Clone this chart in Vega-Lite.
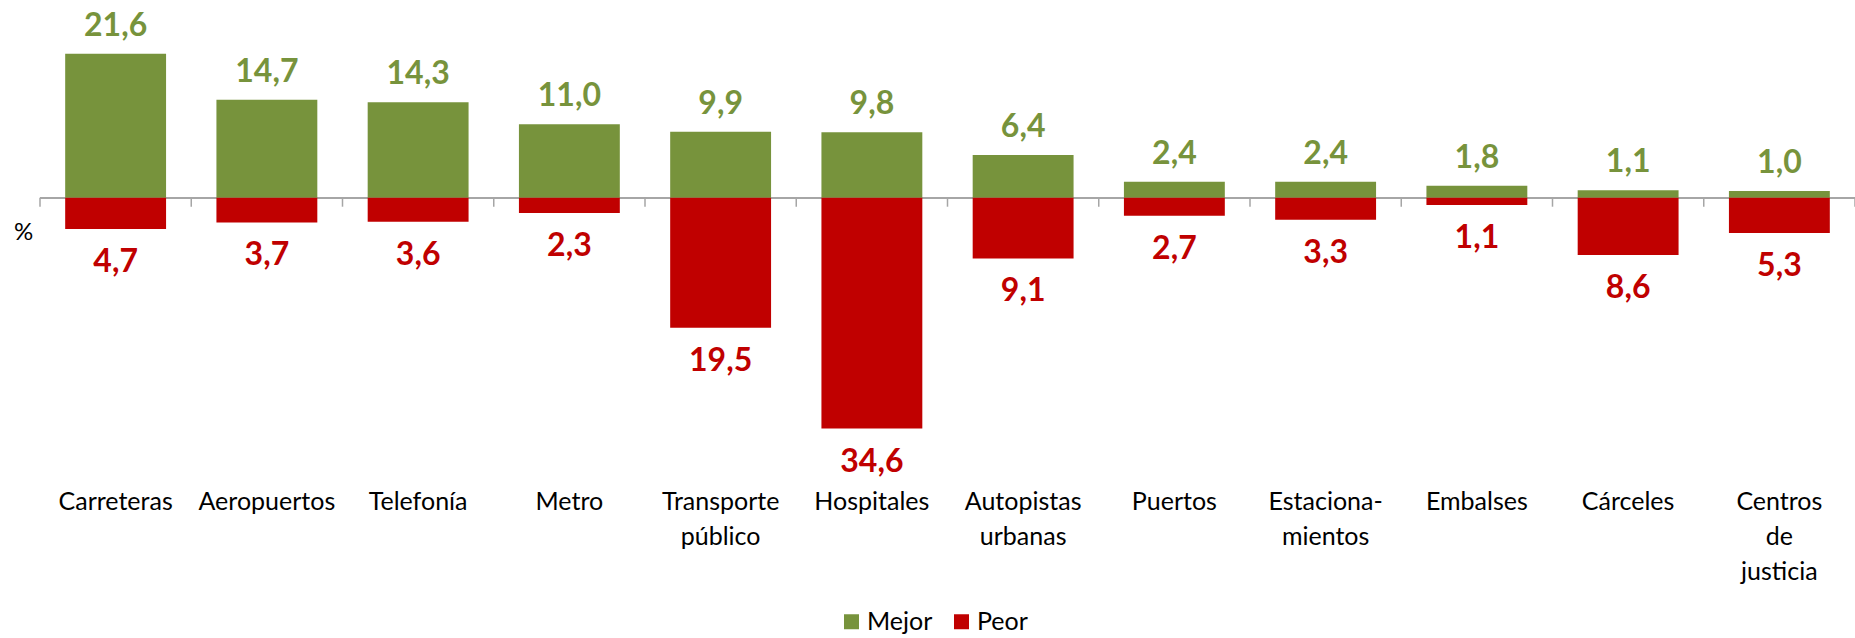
{
  "$schema": "https://vega.github.io/schema/vega-lite/v6.json",
  "autosize": {"type": "none"},
  "padding": {"left": 40, "top": 0, "right": 0, "bottom": 153},
  "width": 1815,
  "height": 485,
  "background": "white",
  "config": {
    "font": "Lato",
    "view": {"stroke": null}
  },
  "data": {
    "values": [
      {"categoria": "Carreteras", "serie": "Mejor", "valor": 21.6},
      {"categoria": "Carreteras", "serie": "Peor", "valor": -4.7},
      {"categoria": "Aeropuertos", "serie": "Mejor", "valor": 14.7},
      {"categoria": "Aeropuertos", "serie": "Peor", "valor": -3.7},
      {"categoria": "Telefonía", "serie": "Mejor", "valor": 14.3},
      {"categoria": "Telefonía", "serie": "Peor", "valor": -3.6},
      {"categoria": "Metro", "serie": "Mejor", "valor": 11.0},
      {"categoria": "Metro", "serie": "Peor", "valor": -2.3},
      {"categoria": "Transporte público", "serie": "Mejor", "valor": 9.9},
      {"categoria": "Transporte público", "serie": "Peor", "valor": -19.5},
      {"categoria": "Hospitales", "serie": "Mejor", "valor": 9.8},
      {"categoria": "Hospitales", "serie": "Peor", "valor": -34.6},
      {"categoria": "Autopistas urbanas", "serie": "Mejor", "valor": 6.4},
      {"categoria": "Autopistas urbanas", "serie": "Peor", "valor": -9.1},
      {"categoria": "Puertos", "serie": "Mejor", "valor": 2.4},
      {"categoria": "Puertos", "serie": "Peor", "valor": -2.7},
      {"categoria": "Estacionamientos", "serie": "Mejor", "valor": 2.4},
      {"categoria": "Estacionamientos", "serie": "Peor", "valor": -3.3},
      {"categoria": "Embalses", "serie": "Mejor", "valor": 1.8},
      {"categoria": "Embalses", "serie": "Peor", "valor": -1.1},
      {"categoria": "Cárceles", "serie": "Mejor", "valor": 1.1},
      {"categoria": "Cárceles", "serie": "Peor", "valor": -8.6},
      {"categoria": "Centros de justicia", "serie": "Mejor", "valor": 1.0},
      {"categoria": "Centros de justicia", "serie": "Peor", "valor": -5.3}
    ]
  },
  "transform": [
    {"calculate": "replace(format(abs(datum.valor), '.1f'), '.', ',')", "as": "etiqueta"}
  ],
  "encoding": {
    "x": {
      "field": "categoria",
      "type": "nominal",
      "sort": null,
      "scale": {"paddingInner": 0, "paddingOuter": 0},
      "axis": {
        "title": null,
        "orient": "bottom",
        "domain": false,
        "ticks": false,
        "labelAngle": 0,
        "labelFontSize": 25,
        "labelColor": "#000000",
        "labelPadding": 24,
        "labelBaseline": "alphabetic",
        "labelLineHeight": 35,
        "labelExpr": "datum.value == 'Estacionamientos' ? ['Estaciona-', 'mientos'] : split(datum.value, ' ')"
      }
    }
  },
  "layer": [
    {
      "mark": {"type": "rule", "color": "#A6A6A6", "strokeWidth": 1.5},
      "encoding": {
        "x": null,
        "y": {"datum": 0, "type": "quantitative"}
      }
    },
    {
      "transform": [{"filter": "datum.serie == 'Mejor'"}],
      "mark": {"type": "rule", "color": "#A6A6A6", "strokeWidth": 1.5},
      "encoding": {
        "x": {"field": "categoria", "type": "nominal", "sort": null, "bandPosition": 0},
        "y": {"datum": 0, "type": "quantitative"},
        "y2": {"datum": -1.35}
      }
    },
    {
      "transform": [{"filter": "datum.serie == 'Mejor' && datum.categoria == 'Centros de justicia'"}],
      "mark": {"type": "rule", "color": "#A6A6A6", "strokeWidth": 1.5},
      "encoding": {
        "x": {"field": "categoria", "type": "nominal", "sort": null, "bandPosition": 1},
        "y": {"datum": 0, "type": "quantitative"},
        "y2": {"datum": -1.35}
      }
    },
    {
      "mark": {"type": "bar", "width": {"band": 0.667}},
      "encoding": {
        "y": {
          "field": "valor",
          "type": "quantitative",
          "scale": {"domain": [-43.07, 29.64], "nice": false, "zero": false},
          "axis": {
            "title": "%",
            "labels": false,
            "ticks": false,
            "domain": false,
            "grid": false,
            "titleAngle": 0,
            "titleFontSize": 24,
            "titleFontWeight": "normal",
            "titleColor": "#000000",
            "titleAlign": "center",
            "titleBaseline": "middle",
            "titleX": -17,
            "titleY": 232
          }
        },
        "color": {
          "field": "serie",
          "type": "nominal",
          "scale": {"domain": ["Mejor", "Peor"], "range": ["#77933C", "#C00000"]},
          "legend": {
            "title": null,
            "orient": "none",
            "direction": "horizontal",
            "legendX": 799,
            "legendY": 609,
            "padding": 0,
            "symbolType": "square",
            "symbolSize": 225,
            "symbolStrokeWidth": 0,
            "labelFontSize": 25,
            "labelColor": "#000000",
            "labelOffset": 3,
            "columnPadding": 16
          }
        }
      }
    },
    {
      "transform": [{"filter": "datum.serie == 'Mejor'"}],
      "mark": {"type": "text", "fontSize": 32, "fontWeight": "bold", "baseline": "alphabetic", "align": "center", "dy": -18, "color": "#77933C"},
      "encoding": {
        "y": {"field": "valor", "type": "quantitative"},
        "text": {"field": "etiqueta"}
      }
    },
    {
      "transform": [{"filter": "datum.serie == 'Peor'"}],
      "mark": {"type": "text", "fontSize": 32, "fontWeight": "bold", "baseline": "alphabetic", "align": "center", "dy": 43, "color": "#C00000"},
      "encoding": {
        "y": {"field": "valor", "type": "quantitative"},
        "text": {"field": "etiqueta"}
      }
    }
  ]
}
